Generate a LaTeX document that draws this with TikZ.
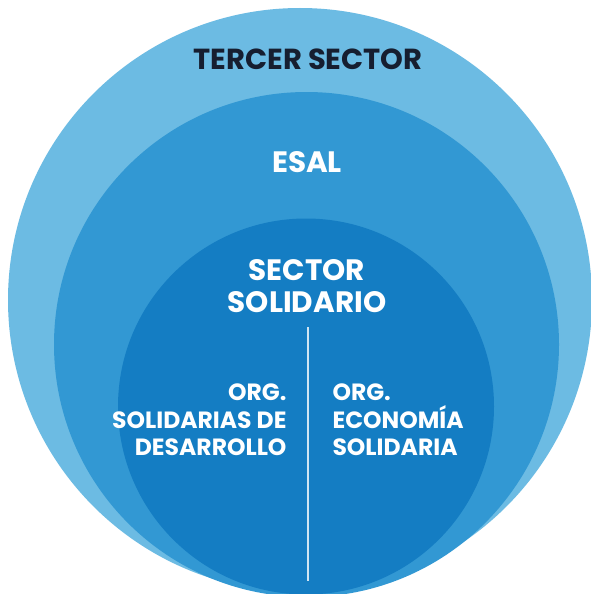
\documentclass[tikz,border=0pt]{standalone}
\usepackage{fontspec}
\setsansfont{Poppins}
\usetikzlibrary{positioning}
\definecolor{outerblue}{RGB}{108,187,227}
\definecolor{midblue}{RGB}{50,152,211}
\definecolor{innerblue}{RGB}{20,125,195}
\definecolor{navy}{RGB}{22,30,48}

\begin{document}
\begin{tikzpicture}[
  x=1pt, y=-1pt,
  every node/.style={font=\sffamily\bfseries},
  ring/.style={draw=none},
  title/.style={text=navy, font=\sffamily\bfseries\fontsize{29}{34}\selectfont},
  label/.style={text=white, align=center, font=\sffamily\bfseries\fontsize{29.5}{32}\selectfont},
  org/.style={text=white, font=\sffamily\bfseries\fontsize{23.5}{27.5}\selectfont}
]
\fill[white] (0,0) rectangle (591,594);
\useasboundingbox (0,0) rectangle (591,594);

% Nested circles, all touching at the bottom
\fill[ring, outerblue] (300,300) circle (292);
\fill[ring, midblue] (306.5,344.5) circle (252.5);
\fill[ring, innerblue] (306,406.5) circle (188);

\node[title] (tercer) at (308,59) {TERCER SECTOR};
\node[label] (esal) at (307,162) {ESAL};
\node[label] (solidario) at (307,286) {SECTOR\\SOLIDARIO};

% Divider between the two kinds of organisation
\coordinate (divtop) at (308,327);
\coordinate (divbot) at (308,581);
\draw[white!80!innerblue, line width=1.6pt] (divtop) -- (divbot);

\node[org, anchor=east, align=right] (desarrollo) at (290,420)
  {ORG.\\SOLIDARIAS DE\\DESARROLLO};
\node[org, anchor=west, align=left] (economia) at (329,420)
  {ORG.\\ECONOMÍA\\SOLIDARIA};

\end{tikzpicture}
\end{document}
